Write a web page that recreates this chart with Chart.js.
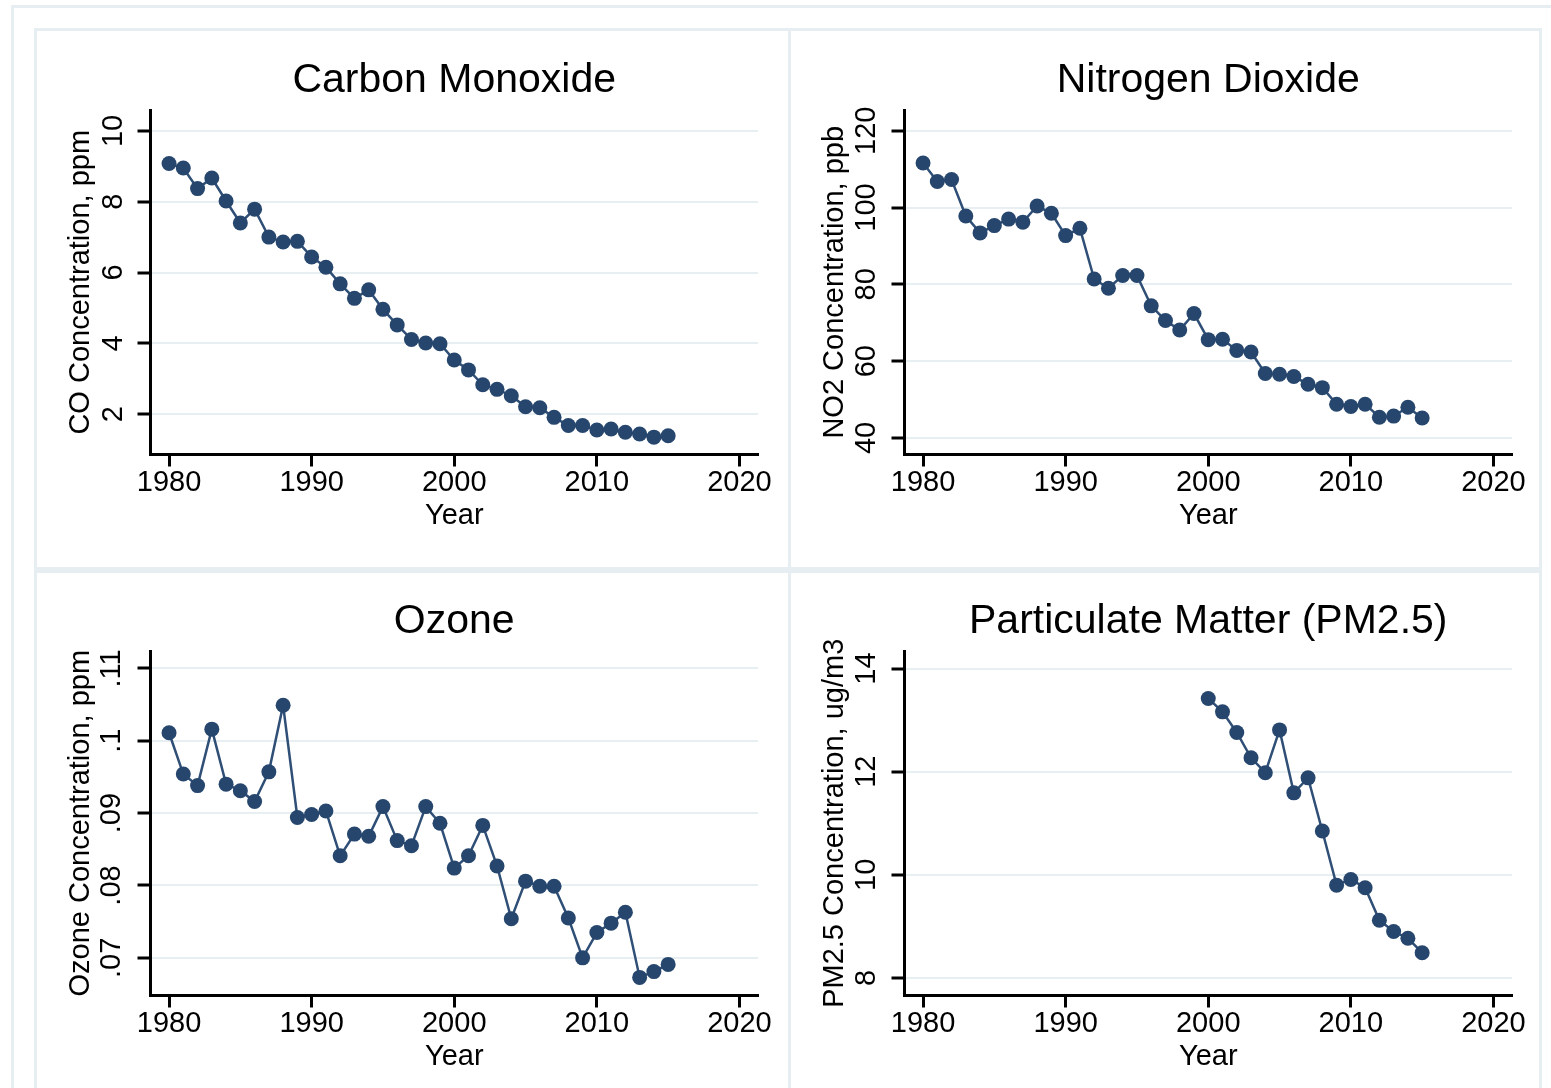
<!DOCTYPE html>
<html>
<head>
<meta charset="utf-8">
<title>Air pollutant concentrations</title>
<script src="https://cdn.jsdelivr.net/npm/chart.js@4.4.1/dist/chart.umd.min.js"></script>
<style>
  html, body { margin: 0; padding: 0; background: #fff; }
  body { width: 1551px; height: 1088px; overflow: hidden; position: relative; }
  .frame { position: absolute; box-sizing: border-box; border: 3px solid #e6eef1; }
  canvas { position: absolute; }
</style>
</head>
<body>
<div class="frame" style="left:11px;top:5px;width:1600px;height:1200px"></div>
<div class="frame" style="left:34px;top:28px;width:757px;height:542px"></div>
<div class="frame" style="left:788px;top:28px;width:754px;height:542px"></div>
<div class="frame" style="left:34px;top:570px;width:757px;height:542px"></div>
<div class="frame" style="left:788px;top:570px;width:754px;height:542px"></div>

<canvas id="co" width="754" height="538" style="left:35px;top:30px"></canvas>
<canvas id="no2" width="754" height="538" style="left:789px;top:30px"></canvas>
<canvas id="ozone" width="754" height="538" style="left:35px;top:571px"></canvas>
<canvas id="pm" width="754" height="538" style="left:789px;top:571px"></canvas>

<script>
// data
const years = [1980, 1981, 1982, 1983, 1984, 1985, 1986, 1987, 1988, 1989,
               1990, 1991, 1992, 1993, 1994, 1995, 1996, 1997, 1998, 1999,
               2000, 2001, 2002, 2003, 2004, 2005, 2006, 2007, 2008, 2009,
               2010, 2011, 2012, 2013, 2014, 2015];
const pmYears = [2000, 2001, 2002, 2003, 2004, 2005, 2006, 2007,
                 2008, 2009, 2010, 2011, 2012, 2013, 2014, 2015];

const coValues = [9.08, 8.95, 8.37, 8.67, 8.02, 7.40, 7.79, 7.00, 6.86, 6.88,
                  6.44, 6.15, 5.68, 5.27, 5.51, 4.96, 4.52, 4.11, 4.01, 3.99,
                  3.53, 3.25, 2.83, 2.70, 2.52, 2.21, 2.18, 1.91, 1.68, 1.68,
                  1.55, 1.58, 1.49, 1.44, 1.35, 1.39];
const no2Values = [111.6, 106.8, 107.3, 97.8, 93.4, 95.3, 97.0, 96.2, 100.4, 98.5,
                   92.7, 94.6, 81.4, 79.0, 82.3, 82.3, 74.4, 70.6, 68.1, 72.4,
                   65.6, 65.7, 62.8, 62.4, 56.8, 56.6, 56.0, 54.0, 53.1, 48.8,
                   48.2, 48.8, 45.4, 45.7, 48.0, 45.2];
const ozoneValues = [0.1011, 0.0954, 0.0938, 0.1016, 0.0940, 0.0931, 0.0916, 0.0957, 0.1049, 0.0894,
                     0.0898, 0.0903, 0.0841, 0.0871, 0.0868, 0.0909, 0.0862, 0.0855, 0.0909, 0.0886,
                     0.0824, 0.0841, 0.0883, 0.0827, 0.0754, 0.0806, 0.0799, 0.0799, 0.0755, 0.0700,
                     0.0735, 0.0748, 0.0763, 0.0673, 0.0681, 0.0691];
const pmValues = [13.42, 13.16, 12.76, 12.27, 11.98, 12.81, 11.59, 11.88,
                  10.85, 9.80, 9.91, 9.75, 9.12, 8.90, 8.77, 8.49];

const xTicks = [1980, 1990, 2000, 2010, 2020];
const coTicks = [2, 4, 6, 8, 10];
const coTickLabels = ['2', '4', '6', '8', '10'];
const no2Ticks = [40, 60, 80, 100, 120];
const no2TickLabels = ['40', '60', '80', '100', '120'];
const ozoneTicks = [0.07, 0.08, 0.09, 0.10, 0.11];
const ozoneTickLabels = ['.07', '.08', '.09', '.1', '.11'];
const pmTicks = [8, 10, 12, 14];
const pmTickLabels = ['8', '10', '12', '14'];

const FONT = '"Liberation Sans", Arial, Helvetica, sans-serif';
const MARK = '#26466d';
const LINE = '#2f4f76';
const GRID = '#e8eff2';

Chart.defaults.font.family = FONT;

const panels = [
  { id: 'co', title: 'Carbon Monoxide', yTitle: 'CO Concentration, ppm',
    xs: years, ys: coValues, yTicks: coTicks, yLabels: coTickLabels,
    yMin: 0.86, yMax: 10.59, labelPad: 7.4 },
  { id: 'no2', title: 'Nitrogen Dioxide', yTitle: 'NO2 Concentration, ppb',
    xs: years, ys: no2Values, yTicks: no2Ticks, yLabels: no2TickLabels,
    yMin: 35.7, yMax: 125.4, labelPad: 0.3 },
  { id: 'ozone', title: 'Ozone', yTitle: 'Ozone Concentration, ppm',
    xs: years, ys: ozoneValues, yTicks: ozoneTicks, yLabels: ozoneTickLabels,
    yMin: 0.0648, yMax: 0.1124, labelPad: 5 },
  { id: 'pm', title: 'Particulate Matter (PM2.5)', yTitle: 'PM2.5 Concentration, ug/m3',
    xs: pmYears, ys: pmValues, yTicks: pmTicks, yLabels: pmTickLabels,
    yMin: 7.66, yMax: 14.34, labelPad: 8.4 }
];

const smallFont = { family: FONT, size: 29, lineHeight: 1 };

function makePanel(p) {
  return new Chart(document.getElementById(p.id), {
    type: 'line',
    data: {
      datasets: [{
        data: p.xs.map((x, i) => ({ x: x, y: p.ys[i] })),
        borderColor: LINE, borderWidth: 2.5, tension: 0,
        pointRadius: 7.5, pointBackgroundColor: MARK, pointBorderWidth: 0
      }]
    },
    options: {
      responsive: false, animation: false, events: [],
      layout: { padding: { left: 31, right: 31, top: 0, bottom: 38 } },
      plugins: {
        legend: { display: false },
        tooltip: { enabled: false },
        title: {
          display: true, text: p.title, fullSize: false, color: '#000',
          font: { family: FONT, size: 41, weight: 'normal', lineHeight: 1 },
          padding: { top: 30, bottom: 9 }
        }
      },
      scales: {
        x: {
          type: 'linear', min: 1978.7, max: 2021.3,
          afterBuildTicks: s => { s.ticks = xTicks.map(v => ({ value: v })); },
          afterFit: s => { s.height = 75.5; },
          ticks: { color: '#000', font: smallFont, padding: 2, autoSkip: false,
                   maxRotation: 0, callback: v => String(v) },
          grid: { drawOnChartArea: false, tickLength: 12, tickColor: '#000', tickWidth: 3 },
          border: { color: '#000', width: 3 },
          title: { display: true, text: 'Year', color: '#000', font: smallFont,
                   padding: { top: 2.5, bottom: 0 } }
        },
        y: {
          type: 'linear', min: p.yMin, max: p.yMax,
          afterBuildTicks: s => { s.ticks = p.yTicks.map(v => ({ value: v })); },
          afterFit: s => { s.width = 84.5; },
          ticks: { color: '#000', font: smallFont, padding: p.labelPad, autoSkip: false,
                   minRotation: 90, maxRotation: 90, crossAlign: 'center',
                   callback: (v, i) => p.yLabels[i] },
          grid: { color: GRID, lineWidth: 2, tickLength: 13, tickColor: '#000', tickWidth: 3 },
          border: { color: '#000', width: 3 },
          title: { display: true, text: p.yTitle, color: '#000', font: smallFont,
                   padding: { top: 0, bottom: 0 } }
        }
      }
    }
  });
}

window.addEventListener('DOMContentLoaded', () => panels.forEach(makePanel));
</script>
</body>
</html>
